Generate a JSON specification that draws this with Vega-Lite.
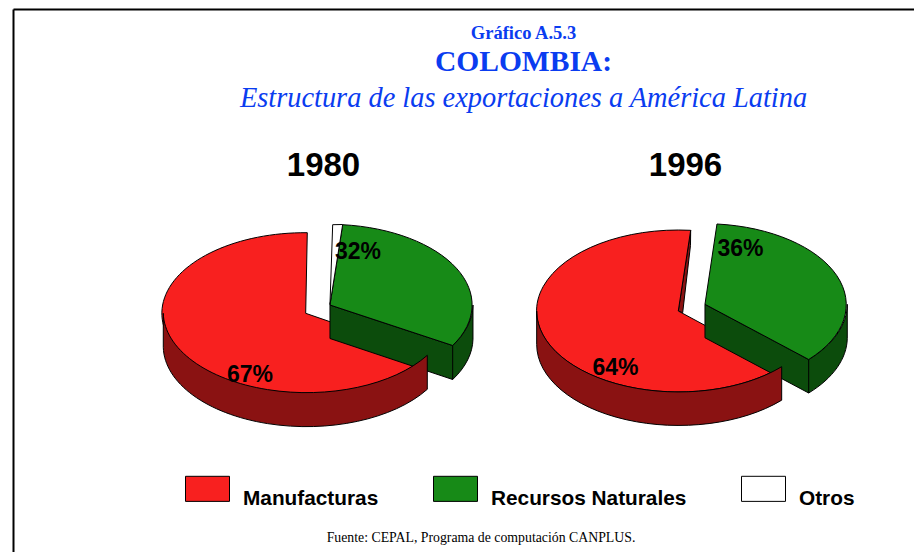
{
"$schema":"https://vega.github.io/schema/vega-lite/v6.json",
"autosize":"none","padding":{"left":13,"top":9,"right":0,"bottom":0},
"width":901,"height":543,"background":"white",
"config":{"view":{"stroke":null},"text":{"font":"Liberation Sans"}},
"title":{"text":"Gráfico A.5.3","subtitle":"COLOMBIA:","anchor":"middle","dx":60,"offset":-67,"font":"Liberation Serif","fontWeight":"bold","fontSize":18.5,"color":"#0a3cf0","subtitleFont":"Liberation Serif","subtitleFontWeight":"bold","subtitleFontSize":29.5,"subtitleColor":"#0a3cf0","subtitlePadding":5},
"data":{"values":[
{"clave":"M1980","anio":"1980","categoria":"Manufacturas","share":0.67},
{"clave":"R1980","anio":"1980","categoria":"Recursos Naturales","share":0.32},
{"clave":"O1980","anio":"1980","categoria":"Otros","share":0.01},
{"clave":"M1996","anio":"1996","categoria":"Manufacturas","share":0.64},
{"clave":"R1996","anio":"1996","categoria":"Recursos Naturales","share":0.36},
{"clave":"O1996","anio":"1996","categoria":"Otros","share":0.0}
]},
"encoding":{
"x":{"field":"anio","type":"ordinal","scale":{"type":"point","domain":["1980","1996"],"range":[0,901],"padding":0.7445,"align":0.5751},
"axis":{"orient":"top","domain":true,"domainColor":"#000","domainWidth":2,"ticks":false,"grid":false,"labelAngle":0,"labelFont":"Liberation Sans","labelFontWeight":"bold","labelFontSize":33,"labelColor":"#000","labelPadding":-173,"title":"Estructura de las exportaciones a América Latina","titleFont":"Liberation Serif","titleFontStyle":"italic","titleFontWeight":"normal","titleFontSize":28.4,"titleColor":"#0a3cf0","titleX":510,"titleY":97,"titleAlign":"center","titleBaseline":"alphabetic"}},
"y":{"datum":0,"type":"quantitative","scale":{"domain":[-1,1]},
"axis":{"orient":"left","domain":true,"domainColor":"#000","domainWidth":2,"ticks":false,"labels":false,"grid":false,"title":"Fuente: CEPAL, Programa de computación CANPLUS.","titleFont":"Liberation Serif","titleFontWeight":"normal","titleFontSize":13.8,"titleColor":"#000","titleAngle":0,"titleX":467.5,"titleY":532,"titleAlign":"center","titleBaseline":"alphabetic"}}
},
"resolve":{"scale":{"shape":"independent"}},
"layer":[
{"transform":[{"filter":"datum.categoria==='Manufacturas'"}],
"mark":{"type":"point","filled":true,"opacity":1,"size":4,"fill":"#8a1212","stroke":"#000","strokeWidth":1},
"encoding":{"shape":{"field":"clave","legend":null,"scale":{"domain":["M1980","M1996"],"range":["M0,0","M-6.7,30.5 L5.7,-50.2 L5.5,-35 L-2.3,32.2 Z"]}}}},
{"transform":[{"filter":"datum.categoria==='Manufacturas'"}],
"mark":{"type":"point","filled":true,"opacity":1,"size":4,"stroke":"#000","strokeWidth":1},
"encoding":{"shape":{"field":"clave","legend":null,"scale":{"domain":["M1980","M1996"],"range":["M-17.3,32.8 L-15.7,-47.8 A143.2,80.6 0 1 0 104.3,74.8 Z","M-6.7,30.5 L5.7,-50.2 A142,81 0 1 0 96.7,86.2 Z"]}},
"fill":{"field":"categoria","type":"nominal","scale":{"domain":["Manufacturas","Recursos Naturales","Otros"],"range":["#f8201f","#178a17","#ffffff"]},
"legend":{"title":null,"orient":"none","legendX":172,"legendY":457,"direction":"horizontal","columns":3,"columnPadding":52,"symbolType":"M-1,-0.57 H1 V0.57 H-1 Z","symbolSize":1936,"symbolStrokeColor":"#000","symbolStrokeWidth":1,"symbolOpacity":1,"labelFont":"Liberation Sans","labelFontWeight":"bold","labelFontSize":20.8,"labelColor":"#000","labelOffset":13,"labelLimit":300,"labelBaseline":"top"}}}},
{"transform":[{"filter":"datum.categoria==='Recursos Naturales'"}],
"mark":{"type":"point","filled":true,"opacity":1,"size":4,"fill":"#0c4c0c","stroke":"#000","strokeWidth":1},
"encoding":{"shape":{"field":"clave","legend":null,"scale":{"domain":["R1980","R1996"],"range":["M7,24.5 L129.7,65 A143,80.6 0 0 0 150,24.5 V58.5 A143,80.6 0 0 1 129.7,99 L7,58 Z M129.7,65 V99","M20,23.8 L123.7,79 A142.3,81 0 0 0 162.3,23.8 V57.8 A142.3,81 0 0 1 123.7,112.5 L20,57.3 Z M123.7,79 V112.5"]}}}},
{"transform":[{"filter":"datum.categoria!=='Manufacturas'"}],
"mark":{"type":"point","filled":true,"opacity":1,"size":4,"stroke":"#000","strokeWidth":1},
"encoding":{"shape":{"field":"clave","legend":null,"scale":{"domain":["R1980","O1980","R1996","O1996"],"range":["M7,24.5 L19.7,-55.8 A143,80.6 0 0 1 129.7,65 Z","M7,24 L9.7,-55.8 L19.7,-56 Z","M20,23.8 L32,-56.5 A142.3,81 0 0 1 123.7,79 Z","M0,0"]}},
"fill":{"field":"categoria","type":"nominal"}}},
{"transform":[{"filter":"datum.categoria==='Manufacturas'"}],
"mark":{"type":"point","filled":true,"opacity":1,"size":4,"fill":"#8a1212","stroke":"#000","strokeWidth":1},
"encoding":{"shape":{"field":"clave","legend":null,"scale":{"domain":["M1980","M1996"],"range":["M-159.7,32.8 A143.2,80.6 0 0 0 104.3,74.8 V108.8 A143.2,80.6 0 0 1 -159.7,66.8 Z","M-148.3,30.5 A142,81 0 0 0 96.7,86.2 V119.7 A142,81 0 0 1 -148.3,64 Z"]}}}},
{"transform":[{"filter":"datum.clave==='M1980'"}],"mark":{"type":"text","font":"Liberation Sans","fontWeight":"bold","fontSize":23,"color":"#000","dx":-73,"dy":94,"align":"center","baseline":"middle"},"encoding":{"text":{"field":"share","type":"quantitative","format":".0%"}}},
{"transform":[{"filter":"datum.clave==='R1980'"}],"mark":{"type":"text","font":"Liberation Sans","fontWeight":"bold","fontSize":23,"color":"#000","dx":35,"dy":-29,"align":"center","baseline":"middle"},"encoding":{"text":{"field":"share","type":"quantitative","format":".0%"}}},
{"transform":[{"filter":"datum.clave==='M1996'"}],"mark":{"type":"text","font":"Liberation Sans","fontWeight":"bold","fontSize":23,"color":"#000","dx":-69.5,"dy":87,"align":"center","baseline":"middle"},"encoding":{"text":{"field":"share","type":"quantitative","format":".0%"}}},
{"transform":[{"filter":"datum.clave==='R1996'"}],"mark":{"type":"text","font":"Liberation Sans","fontWeight":"bold","fontSize":23,"color":"#000","dx":55.5,"dy":-32,"align":"center","baseline":"middle"},"encoding":{"text":{"field":"share","type":"quantitative","format":".0%"}}}
]
}
